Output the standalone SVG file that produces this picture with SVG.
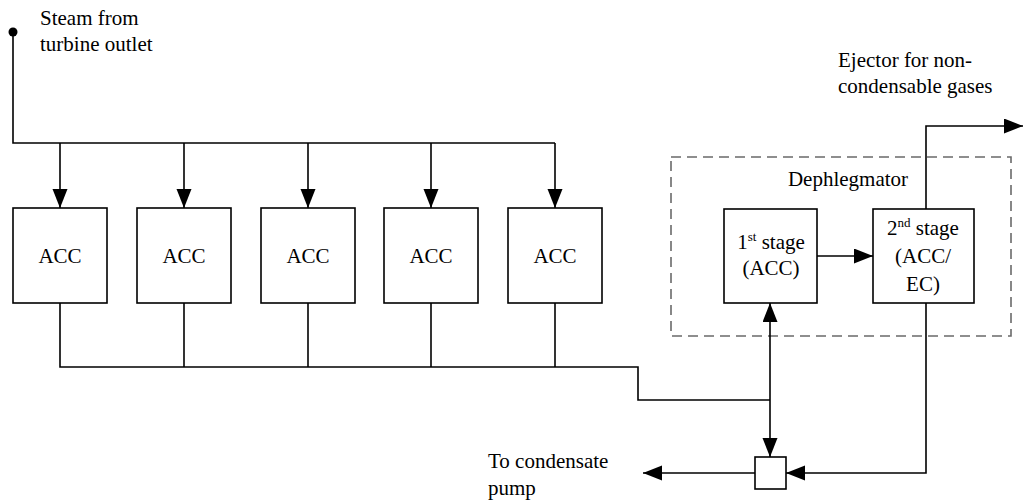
<svg xmlns="http://www.w3.org/2000/svg" width="1024" height="502" viewBox="0 0 1024 502">
<style>
.box{fill:#fff;stroke:#000;stroke-width:1.6}
.ln{fill:none;stroke:#000;stroke-width:1.6}
.dash{fill:none;stroke:#6a6a6a;stroke-width:1.6;stroke-dasharray:10 6}
text{font-family:'Liberation Serif','Times New Roman',serif;font-size:21px;fill:#000}
.c{text-anchor:middle}
.sup{font-size:13px}
</style>
<defs>
<marker id="ah" markerUnits="userSpaceOnUse" markerWidth="22" markerHeight="18" refX="19" refY="7.5" orient="auto">
<path d="M0,0 L19,7.5 L0,15 z" fill="#000"/>
</marker>
</defs>
<g id="dephlegmator-frame">
<rect class="dash" x="671" y="157" width="340" height="179"/>
<text x="848" y="186" class="c">Dephlegmator</text>
</g>
<g id="connectors">
<circle cx="13" cy="32" r="4.5" fill="#000"/>
<path class="ln" d="M13,32 V143 H555"/>
<path class="ln" d="M60,143 V208" marker-end="url(#ah)"/>
<path class="ln" d="M184,143 V208" marker-end="url(#ah)"/>
<path class="ln" d="M308,143 V208" marker-end="url(#ah)"/>
<path class="ln" d="M431,143 V208" marker-end="url(#ah)"/>
<path class="ln" d="M555,143 V208" marker-end="url(#ah)"/>
<path class="ln" d="M60,303 V367 H638 V400 H770"/>
<path class="ln" d="M184,303 V367"/>
<path class="ln" d="M308,303 V367"/>
<path class="ln" d="M431,303 V367"/>
<path class="ln" d="M555,303 V367"/>
<path class="ln" d="M770,380 V303" marker-end="url(#ah)"/>
<path class="ln" d="M770,380 V457" marker-end="url(#ah)"/>
<path class="ln" d="M817,256 H873" marker-end="url(#ah)"/>
<path class="ln" d="M926,209 V126 H1023" marker-end="url(#ah)"/>
<path class="ln" d="M926,303 V473 H786" marker-end="url(#ah)"/>
<path class="ln" d="M755,473 H643" marker-end="url(#ah)"/>
</g>
<g id="acc1"><rect class="box" x="13" y="208" width="94" height="95"/><text x="60" y="263" class="c">ACC</text></g>
<g id="acc2"><rect class="box" x="137" y="208" width="94" height="95"/><text x="184" y="263" class="c">ACC</text></g>
<g id="acc3"><rect class="box" x="261" y="208" width="94" height="95"/><text x="308" y="263" class="c">ACC</text></g>
<g id="acc4"><rect class="box" x="384" y="208" width="94" height="95"/><text x="431" y="263" class="c">ACC</text></g>
<g id="acc5"><rect class="box" x="508" y="208" width="94" height="95"/><text x="555" y="263" class="c">ACC</text></g>
<g id="stage1">
<rect class="box" x="724" y="209" width="93" height="94"/>
<text x="771" y="249" class="c">1<tspan class="sup" dy="-8">st</tspan><tspan dy="8"> stage</tspan></text>
<text x="771" y="275" class="c">(ACC)</text>
</g>
<g id="stage2">
<rect class="box" x="873" y="209" width="101" height="94"/>
<text x="923" y="235" class="c">2<tspan class="sup" dy="-8">nd</tspan><tspan dy="8"> stage</tspan></text>
<text x="923" y="263" class="c">(ACC/</text>
<text x="923" y="291" class="c">EC)</text>
</g>
<g id="junction"><rect class="box" x="755" y="457" width="31" height="32"/></g>
<g id="labels">
<text x="40" y="25">Steam from</text>
<text x="40" y="51">turbine outlet</text>
<text x="838" y="67">Ejector for non-</text>
<text x="838" y="93">condensable gases</text>
<text x="488" y="468">To condensate</text>
<text x="488" y="495">pump</text>
</g>
</svg>
